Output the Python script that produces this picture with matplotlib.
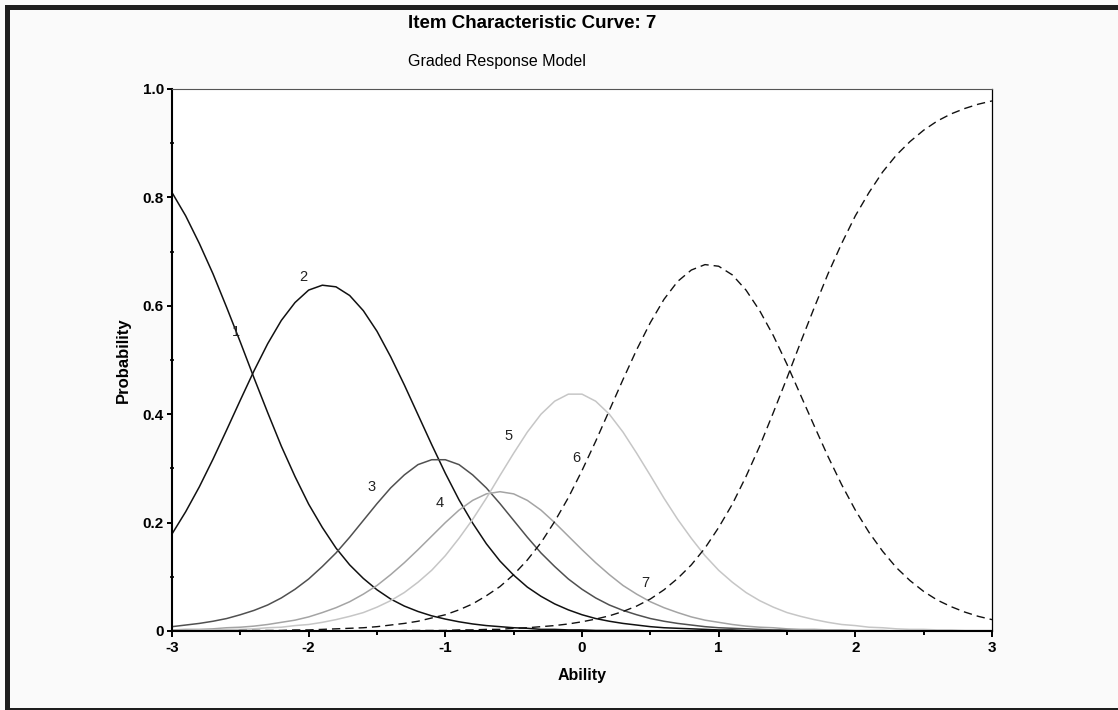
import matplotlib.pyplot as plt
from matplotlib.patches import Rectangle
from matplotlib.ticker import MultipleLocator

plt.rcParams['font.family'] = ['Liberation Sans', 'DejaVu Sans']
plt.rcParams['lines.scale_dashes'] = False

# ability grid and category probabilities
ability = [-3.0, -2.9, -2.8, -2.7, -2.6, -2.5, -2.4, -2.3, -2.2, -2.1,
           -2.0, -1.9, -1.8, -1.7, -1.6, -1.5, -1.4, -1.3, -1.2, -1.1,
           -1.0, -0.9, -0.8, -0.7, -0.6, -0.5, -0.4, -0.3, -0.2, -0.1,
           0.0, 0.1, 0.2, 0.3, 0.4, 0.5, 0.6, 0.7, 0.8, 0.9,
           1.0, 1.1, 1.2, 1.3, 1.4, 1.5, 1.6, 1.7, 1.8, 1.9,
           2.0, 2.1, 2.2, 2.3, 2.4, 2.5, 2.6, 2.7, 2.8, 2.9,
           3.0]

cat1 = [0.809, 0.766, 0.715, 0.659, 0.597, 0.533, 0.467, 0.403, 0.341, 0.285,
        0.234, 0.191, 0.153, 0.122, 0.097, 0.076, 0.059, 0.046, 0.036, 0.028,
        0.022, 0.017, 0.013, 0.010, 0.008, 0.006, 0.005, 0.003, 0.003, 0.002,
        0.002, 0.001, 0.001, 0.001, 0.001, 0.000, 0.000, 0.000, 0.000, 0.000,
        0.000, 0.000, 0.000, 0.000, 0.000, 0.000, 0.000, 0.000, 0.000, 0.000,
        0.000, 0.000, 0.000, 0.000, 0.000, 0.000, 0.000, 0.000, 0.000, 0.000,
        0.000]
cat2 = [0.179, 0.220, 0.266, 0.317, 0.371, 0.426, 0.480, 0.530, 0.573, 0.606,
        0.629, 0.638, 0.635, 0.619, 0.591, 0.553, 0.506, 0.454, 0.399, 0.344,
        0.291, 0.242, 0.199, 0.161, 0.129, 0.103, 0.081, 0.064, 0.050, 0.039,
        0.030, 0.023, 0.018, 0.014, 0.011, 0.008, 0.006, 0.005, 0.004, 0.003,
        0.002, 0.002, 0.001, 0.001, 0.001, 0.001, 0.000, 0.000, 0.000, 0.000,
        0.000, 0.000, 0.000, 0.000, 0.000, 0.000, 0.000, 0.000, 0.000, 0.000,
        0.000]
cat3 = [0.008, 0.011, 0.014, 0.018, 0.023, 0.030, 0.038, 0.048, 0.061, 0.077,
        0.096, 0.119, 0.144, 0.173, 0.204, 0.235, 0.264, 0.288, 0.307, 0.316,
        0.316, 0.307, 0.288, 0.264, 0.235, 0.204, 0.173, 0.144, 0.119, 0.096,
        0.077, 0.061, 0.048, 0.038, 0.030, 0.023, 0.018, 0.014, 0.011, 0.008,
        0.006, 0.005, 0.004, 0.003, 0.002, 0.002, 0.001, 0.001, 0.001, 0.001,
        0.000, 0.000, 0.000, 0.000, 0.000, 0.000, 0.000, 0.000, 0.000, 0.000,
        0.000]
cat4 = [0.002, 0.003, 0.003, 0.004, 0.006, 0.007, 0.009, 0.012, 0.016, 0.020,
        0.026, 0.034, 0.043, 0.054, 0.068, 0.084, 0.104, 0.126, 0.150, 0.175,
        0.200, 0.223, 0.241, 0.253, 0.257, 0.253, 0.241, 0.223, 0.200, 0.175,
        0.150, 0.126, 0.104, 0.084, 0.068, 0.054, 0.043, 0.034, 0.026, 0.020,
        0.016, 0.012, 0.009, 0.007, 0.006, 0.004, 0.003, 0.003, 0.002, 0.002,
        0.001, 0.001, 0.001, 0.000, 0.000, 0.000, 0.000, 0.000, 0.000, 0.000,
        0.000]
cat5 = [0.001, 0.001, 0.002, 0.002, 0.003, 0.003, 0.004, 0.006, 0.007, 0.010,
        0.012, 0.016, 0.021, 0.027, 0.034, 0.044, 0.056, 0.071, 0.090, 0.112,
        0.139, 0.171, 0.206, 0.245, 0.287, 0.328, 0.367, 0.400, 0.424, 0.437,
        0.437, 0.424, 0.400, 0.367, 0.328, 0.287, 0.245, 0.206, 0.171, 0.139,
        0.112, 0.090, 0.071, 0.056, 0.044, 0.034, 0.027, 0.021, 0.016, 0.012,
        0.010, 0.007, 0.006, 0.004, 0.003, 0.003, 0.002, 0.002, 0.001, 0.001,
        0.001]
cat6 = [0.000, 0.000, 0.000, 0.000, 0.000, 0.001, 0.001, 0.001, 0.001, 0.002,
        0.002, 0.003, 0.004, 0.005, 0.006, 0.008, 0.011, 0.014, 0.018, 0.024,
        0.030, 0.039, 0.050, 0.065, 0.082, 0.104, 0.131, 0.163, 0.202, 0.246,
        0.296, 0.350, 0.407, 0.464, 0.519, 0.569, 0.612, 0.645, 0.666, 0.676,
        0.673, 0.657, 0.629, 0.591, 0.545, 0.492, 0.435, 0.378, 0.322, 0.270,
        0.223, 0.182, 0.147, 0.117, 0.093, 0.073, 0.057, 0.045, 0.035, 0.027,
        0.021]
cat7 = [0.000, 0.000, 0.000, 0.000, 0.000, 0.000, 0.000, 0.000, 0.000, 0.000,
        0.000, 0.000, 0.000, 0.000, 0.000, 0.000, 0.000, 0.001, 0.001, 0.001,
        0.001, 0.002, 0.002, 0.003, 0.003, 0.005, 0.006, 0.008, 0.010, 0.013,
        0.017, 0.022, 0.028, 0.036, 0.046, 0.059, 0.076, 0.097, 0.122, 0.153,
        0.191, 0.234, 0.285, 0.341, 0.403, 0.467, 0.533, 0.597, 0.659, 0.715,
        0.766, 0.809, 0.847, 0.878, 0.903, 0.924, 0.941, 0.954, 0.964, 0.972,
        0.978]

categories = ['1', '2', '3', '4', '5', '6', '7']
x_ticks = [-3, -2, -1, 0, 1, 2, 3]
x_tick_labels = ['-3', '-2', '-1', '0', '1', '2', '3']
y_ticks = [0, 0.2, 0.4, 0.6, 0.8, 1.0]
y_tick_labels = ['0', '0.2', '0.4', '0.6', '0.8', '1.0']

curves = [cat1, cat2, cat3, cat4, cat5, cat6, cat7]
colors = ['#111111', '#111111', '#505050', '#a4a4a4', '#c6c6c6', '#111111', '#111111']
dashed = [False, False, False, False, False, True, True]

# where the category numbers sit (text baseline, data coords)
label_x = [-2.53, -2.04, -1.54, -1.04, -0.54, -0.04, 0.46]
label_y = [0.545, 0.646, 0.259, 0.229, 0.353, 0.312, 0.081]

fig = plt.figure(figsize=(11.18, 7.1), dpi=100, facecolor='#fafafa')
ax = fig.add_axes([172 / 1118, 1 - 631 / 710, 820 / 1118, 542 / 710])
ax.set_facecolor('white')

for cat, col, dsh in zip(curves, colors, dashed):
    if dsh:
        ax.plot(ability, cat, color=col, lw=1.0, dashes=(6, 3.6))
    else:
        ax.plot(ability, cat, color=col, lw=1.1)

for name, lx, ly in zip(categories, label_x, label_y):
    ax.text(lx, ly, name, ha='center', va='baseline', fontsize=10.5, color='#222222')

ax.set_xlim(-3, 3)
ax.set_ylim(0, 1)
ax.set_xticks(x_ticks)
ax.set_xticklabels(x_tick_labels, fontweight='bold', fontsize=11)
ax.set_yticks(y_ticks)
ax.set_yticklabels(y_tick_labels, fontweight='bold', fontsize=11)
ax.xaxis.set_minor_locator(MultipleLocator(0.5))
ax.yaxis.set_minor_locator(MultipleLocator(0.1))
ax.tick_params(axis='x', which='major', direction='out', length=4.5, width=1.4, pad=2.5)
ax.tick_params(axis='x', which='minor', direction='out', length=3, width=1.4)
ax.tick_params(axis='y', which='major', direction='out', length=3.8, width=1.4, pad=2)
ax.tick_params(axis='y', which='minor', direction='inout', length=3.5, width=1.2)

ax.spines['left'].set_linewidth(1.5)
ax.spines['bottom'].set_linewidth(1.5)
ax.spines['top'].set_linewidth(0.8)
ax.spines['top'].set_color('#555555')
ax.spines['right'].set_linewidth(0.9)

ax.set_xlabel('Ability', fontweight='bold', fontsize=11.5, va='center')
ax.xaxis.set_label_coords(0.5, -0.082)
ax.set_ylabel('Probability', fontweight='bold', fontsize=12, va='center')
ax.yaxis.set_label_coords(-0.059, 0.5)

fig.text(408 / 1118, 1 - 28 / 710, 'Item Characteristic Curve: 7',
         ha='left', va='baseline', fontsize=13.5, fontweight='bold')
fig.text(408 / 1118, 1 - 66 / 710, 'Graded Response Model',
         ha='left', va='baseline', fontsize=11.5)

# heavy outer frame, partly cut off at right and bottom
fig.patches.append(Rectangle((6.5 / 1118, 1 - 709.5 / 710), (1119.5 - 6.5) / 1118, 703 / 710,
                             transform=fig.transFigure, fill=False, lw=3.6,
                             edgecolor='#1e1e1e', clip_on=False))

fig.savefig('out.png', dpi=100, facecolor=fig.get_facecolor())
